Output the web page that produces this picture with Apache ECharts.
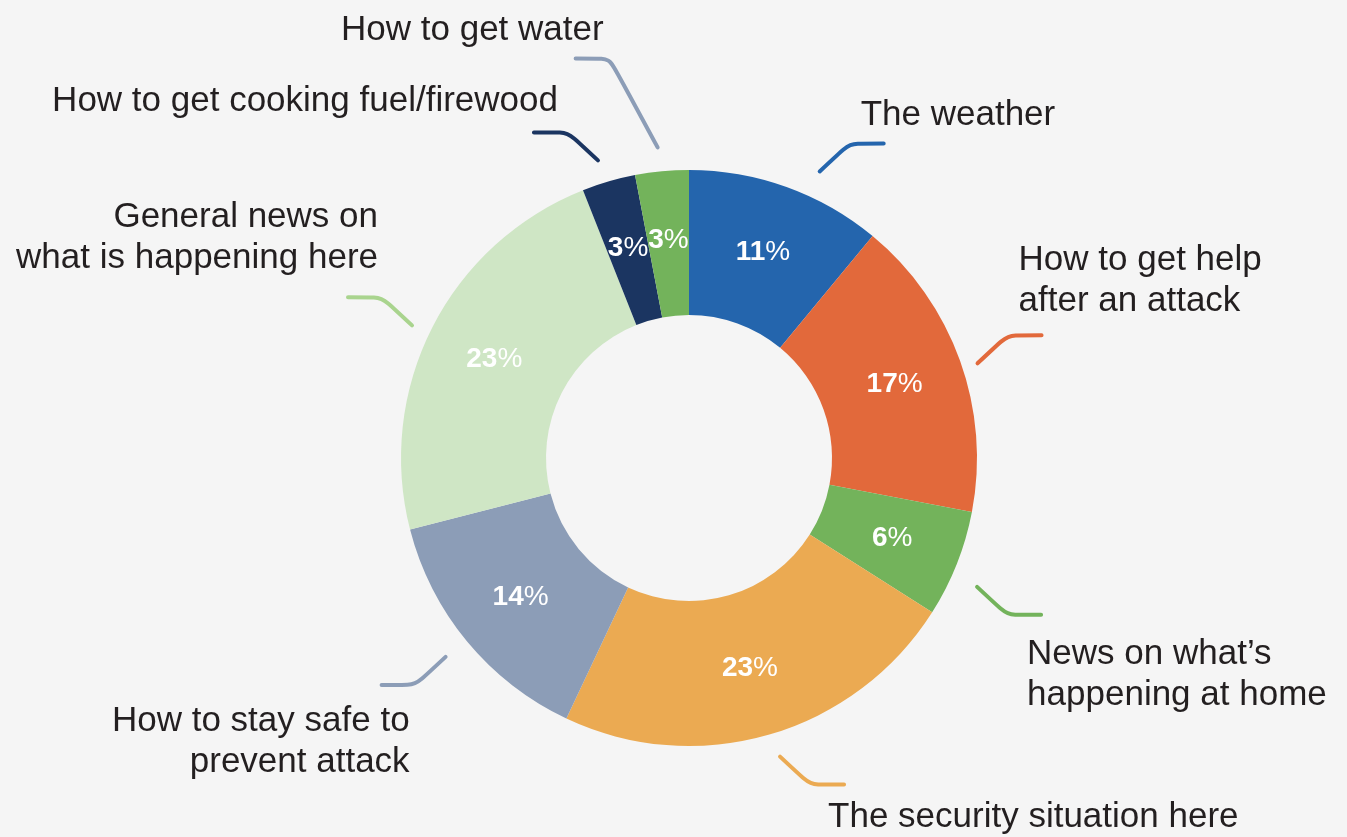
<!DOCTYPE html>
<html>
<head>
<meta charset="utf-8">
<title>Information needs</title>
<script src="https://cdn.jsdelivr.net/npm/echarts@6/dist/echarts.min.js"></script>
<style>
  html, body { margin: 0; padding: 0; background: #f5f5f5; }
  #chart { width: 1347px; height: 837px; }
</style>
</head>
<body>
<div id="chart"></div>
<script>
// Topics, clockwise from 12 o'clock
const categories = [
  'The weather',
  'How to get help\nafter an attack',
  'News on what’s\nhappening at home',
  'The security situation here',
  'How to stay safe to\nprevent attack',
  'General news on\nwhat is happening here',
  'How to get cooking fuel/firewood',
  'How to get water'
];
// Share of respondents, %
const shares = [11, 17, 6, 23, 14, 23, 3, 3];

const sliceColors = ['#2465ad', '#e2693b', '#73b35b', '#ebaa52', '#8c9db7', '#cfe6c5', '#1b3561', '#73b35b'];
const leaderColors = ['#2465ad', '#e2693b', '#73b35b', '#ebaa52', '#8c9db7', '#a9d48e', '#1b3561', '#8c9db7'];

// Leader geometry (px): diagonal run [dx, dy], then a horizontal tail
const CENTER = [689, 458];
const DIAG = [30, 28];
const DIAG_OVERRIDE = { 7: [48, 89] };
const TAIL = 34;
// Fine placement per label: shift of the whole leader, and of the text alone
const LEADER_SHIFT = [[25, 7], [-5, 11], [-2, 14], [4, -1], [-3, 0], [1, 9], [-4, 2], [-2, 0]];
const TEXT_SHIFT = [[-3, 5], [-3, 0], [6, 6], [4, -1], [2, 3], [4, -6], [-2, 2], [2, 5]];

const FONT = '"Liberation Sans", Arial, Helvetica, sans-serif';

const chart = echarts.init(document.getElementById('chart'), null, { renderer: 'canvas' });

const donutData = categories.map((name, i) => ({
  name: name,
  value: shares[i],
  itemStyle: { color: sliceColors[i] }
}));

const ringData = categories.map((name, i) => ({
  name: name,
  value: shares[i],
  labelLine: { lineStyle: { color: leaderColors[i] } }
}));

function placeOuterLabel(params) {
  const pts = params.labelLinePoints;
  if (!pts || !pts.length) return {};
  const i = params.dataIndex;
  const shift = LEADER_SHIFT[i] || [0, 0];
  const tshift = TEXT_SHIFT[i] || [0, 0];
  const p0 = [pts[0][0] + shift[0], pts[0][1] + shift[1]];
  const right = p0[0] >= CENTER[0];
  const top = p0[1] < CENTER[1];
  const sx = right ? 1 : -1;
  const sy = top ? -1 : 1;
  const d = DIAG_OVERRIDE[i] || DIAG;
  const p1 = [p0[0] + sx * d[0], p0[1] + sy * d[1]];
  const p2 = [p1[0] + sx * TAIL, p1[1]];
  return {
    x: p1[0] + (right ? 14 : -8) + tshift[0],
    y: p1[1] + (top ? -13 : 13) + tshift[1],
    align: right ? 'left' : 'right',
    verticalAlign: top ? 'bottom' : 'top',
    labelLinePoints: [p0, p1, p2]
  };
}

const option = {
  backgroundColor: '#f5f5f5',
  animation: false,
  series: [
    {
      type: 'pie',
      center: CENTER,
      radius: [143, 288],
      startAngle: 90,
      clockwise: true,
      silent: true,
      avoidLabelOverlap: false,
      data: donutData,
      label: {
        show: true,
        position: 'inside',
        formatter: p => '{n|' + p.value + '}{p|%}',
        rich: {
          n: { color: '#ffffff', fontFamily: FONT, fontSize: 28, fontWeight: 'bold' },
          p: { color: '#ffffff', fontFamily: FONT, fontSize: 28, fontWeight: 'normal' }
        }
      },
      labelLine: { show: false },
      emphasis: { disabled: true }
    },
    {
      type: 'pie',
      center: CENTER,
      radius: [311, 312],
      startAngle: 90,
      clockwise: true,
      silent: true,
      avoidLabelOverlap: false,
      data: ringData,
      itemStyle: { color: 'rgba(0,0,0,0)' },
      label: {
        show: true,
        position: 'outside',
        formatter: p => p.name,
        color: '#231f20',
        fontFamily: FONT,
        fontSize: 35,
        lineHeight: 41
      },
      labelLine: {
        show: true,
        length: 20,
        length2: 30,
        smooth: 0.15,
        lineStyle: { width: 4, cap: 'round', join: 'round' }
      },
      labelLayout: placeOuterLabel,
      emphasis: { disabled: true }
    }
  ]
};

chart.setOption(option);
</script>
</body>
</html>
